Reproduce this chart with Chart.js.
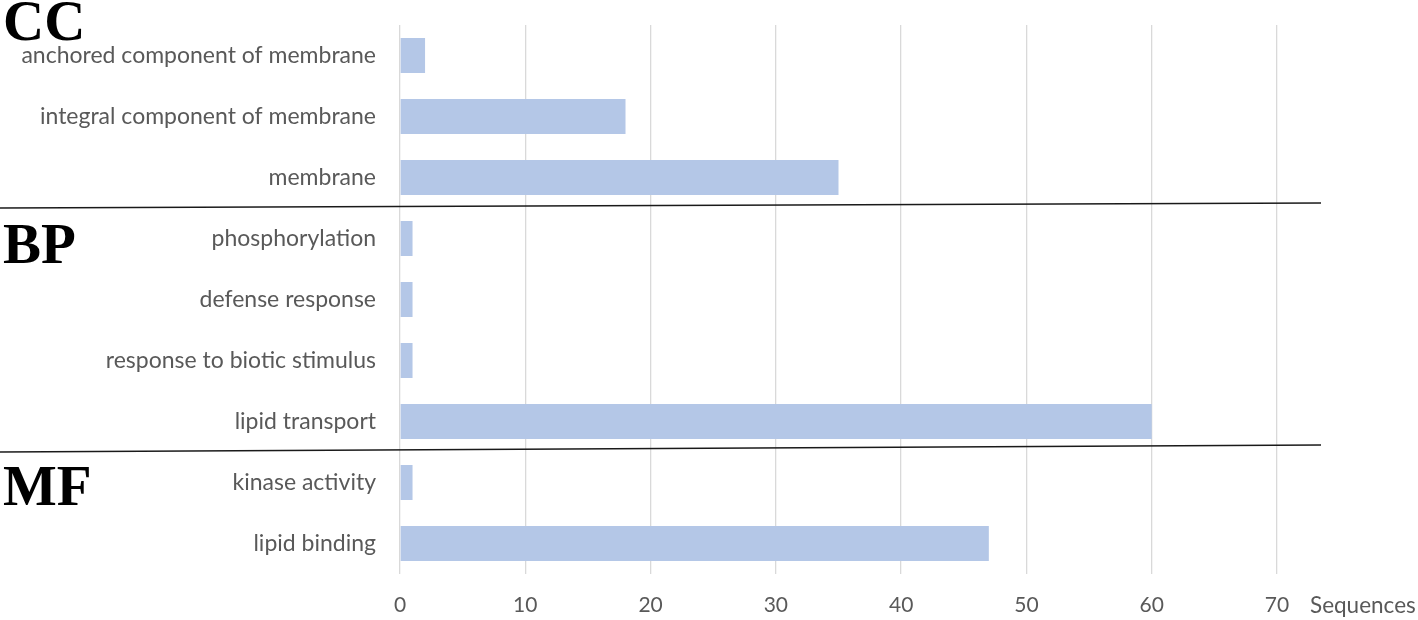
<!DOCTYPE html>
<html>
<head>
<meta charset="utf-8">
<script src="https://cdn.jsdelivr.net/npm/chart.js@4"></script>
<style>
html,body{margin:0;padding:0;background:#fff;}
#wrap{width:1418px;height:620px;position:relative;}
</style>
</head>
<body>
<div id="wrap"><canvas id="c" width="1418" height="620"></canvas></div>
<script>
const categories = [
  "anchored component of membrane",
  "integral component of membrane",
  "membrane",
  "phosphorylation",
  "defense response",
  "response to biotic stimulus",
  "lipid transport",
  "kinase activity",
  "lipid binding"
];
const sequences = [2, 18, 35, 1, 1, 1, 60, 1, 47];
const groupNames = ["CC", "BP", "MF"];
const groupStarts = [0, 3, 7];
const xTicks = [0, 10, 20, 30, 40, 50, 60, 70];
const axisUnit = "Sequences";

const overlay = {
  id: "overlay",
  afterDraw(chart) {
    const ctx = chart.ctx;
    const y = chart.scales.y;
    const x = chart.scales.x;
    ctx.save();
    ctx.strokeStyle = "#1a1a1a";
    ctx.lineWidth = 1.3;
    for (let g = 1; g < groupStarts.length; g++) {
      const yb = y.getPixelForValue(groupStarts[g] - 0.5);
      ctx.beginPath();
      ctx.moveTo(0, yb);
      ctx.lineTo(x.right + 44, yb - (g === 1 ? 5 : 7));
      ctx.stroke();
    }
    ctx.fillStyle = "#000";
    ctx.font = "bold 57px 'Liberation Serif', 'Times New Roman', serif";
    ctx.textAlign = "left";
    ctx.textBaseline = "alphabetic";
    const offs = [-16, 24, 22];
    for (let g = 0; g < groupNames.length; g++) {
      const yc = y.getPixelForValue(groupStarts[g]);
      ctx.fillText(groupNames[g], 3, yc + offs[g]);
    }
    ctx.fillStyle = "#595959";
    ctx.font = "22.5px Lato, 'Open Sans', sans-serif";
    ctx.textBaseline = "middle";
    ctx.fillText(axisUnit, x.right + 33, 606);
    ctx.restore();
  }
};

new Chart(document.getElementById("c"), {
  type: "bar",
  data: {
    labels: categories,
    datasets: [{
      data: sequences,
      backgroundColor: "#B4C7E7",
      borderWidth: 0,
      barPercentage: 0.574,
      categoryPercentage: 1.0
    }]
  },
  options: {
    indexAxis: "y",
    responsive: false,
    animation: false,
    layout: { padding: { left: 0, right: 141, top: 0, bottom: 0 } },
    plugins: { legend: { display: false }, tooltip: { enabled: false } },
    scales: {
      x: {
        min: 0, max: 70,
        afterBuildTicks(scale) { scale.ticks = xTicks.map(v => ({ value: v })); },
        afterFit(scale) { scale.height = 46; },
        grid: { color: "#D9D9D9", lineWidth: 1.3, drawTicks: false },
        border: { display: false },
        ticks: { color: "#595959", font: { family: "Lato, 'Open Sans', sans-serif", size: 21 }, padding: 19 }
      },
      y: {
        afterFit(scale) { scale.width = 400; scale.paddingTop = 25; scale.paddingBottom = 0; },
        grid: { display: false, drawTicks: false },
        border: { display: false },
        ticks: { color: "#595959", font: { family: "Lato, 'Open Sans', sans-serif", size: 23 }, padding: 24 }
      }
    }
  },
  plugins: [overlay]
});
</script>
</body>
</html>
